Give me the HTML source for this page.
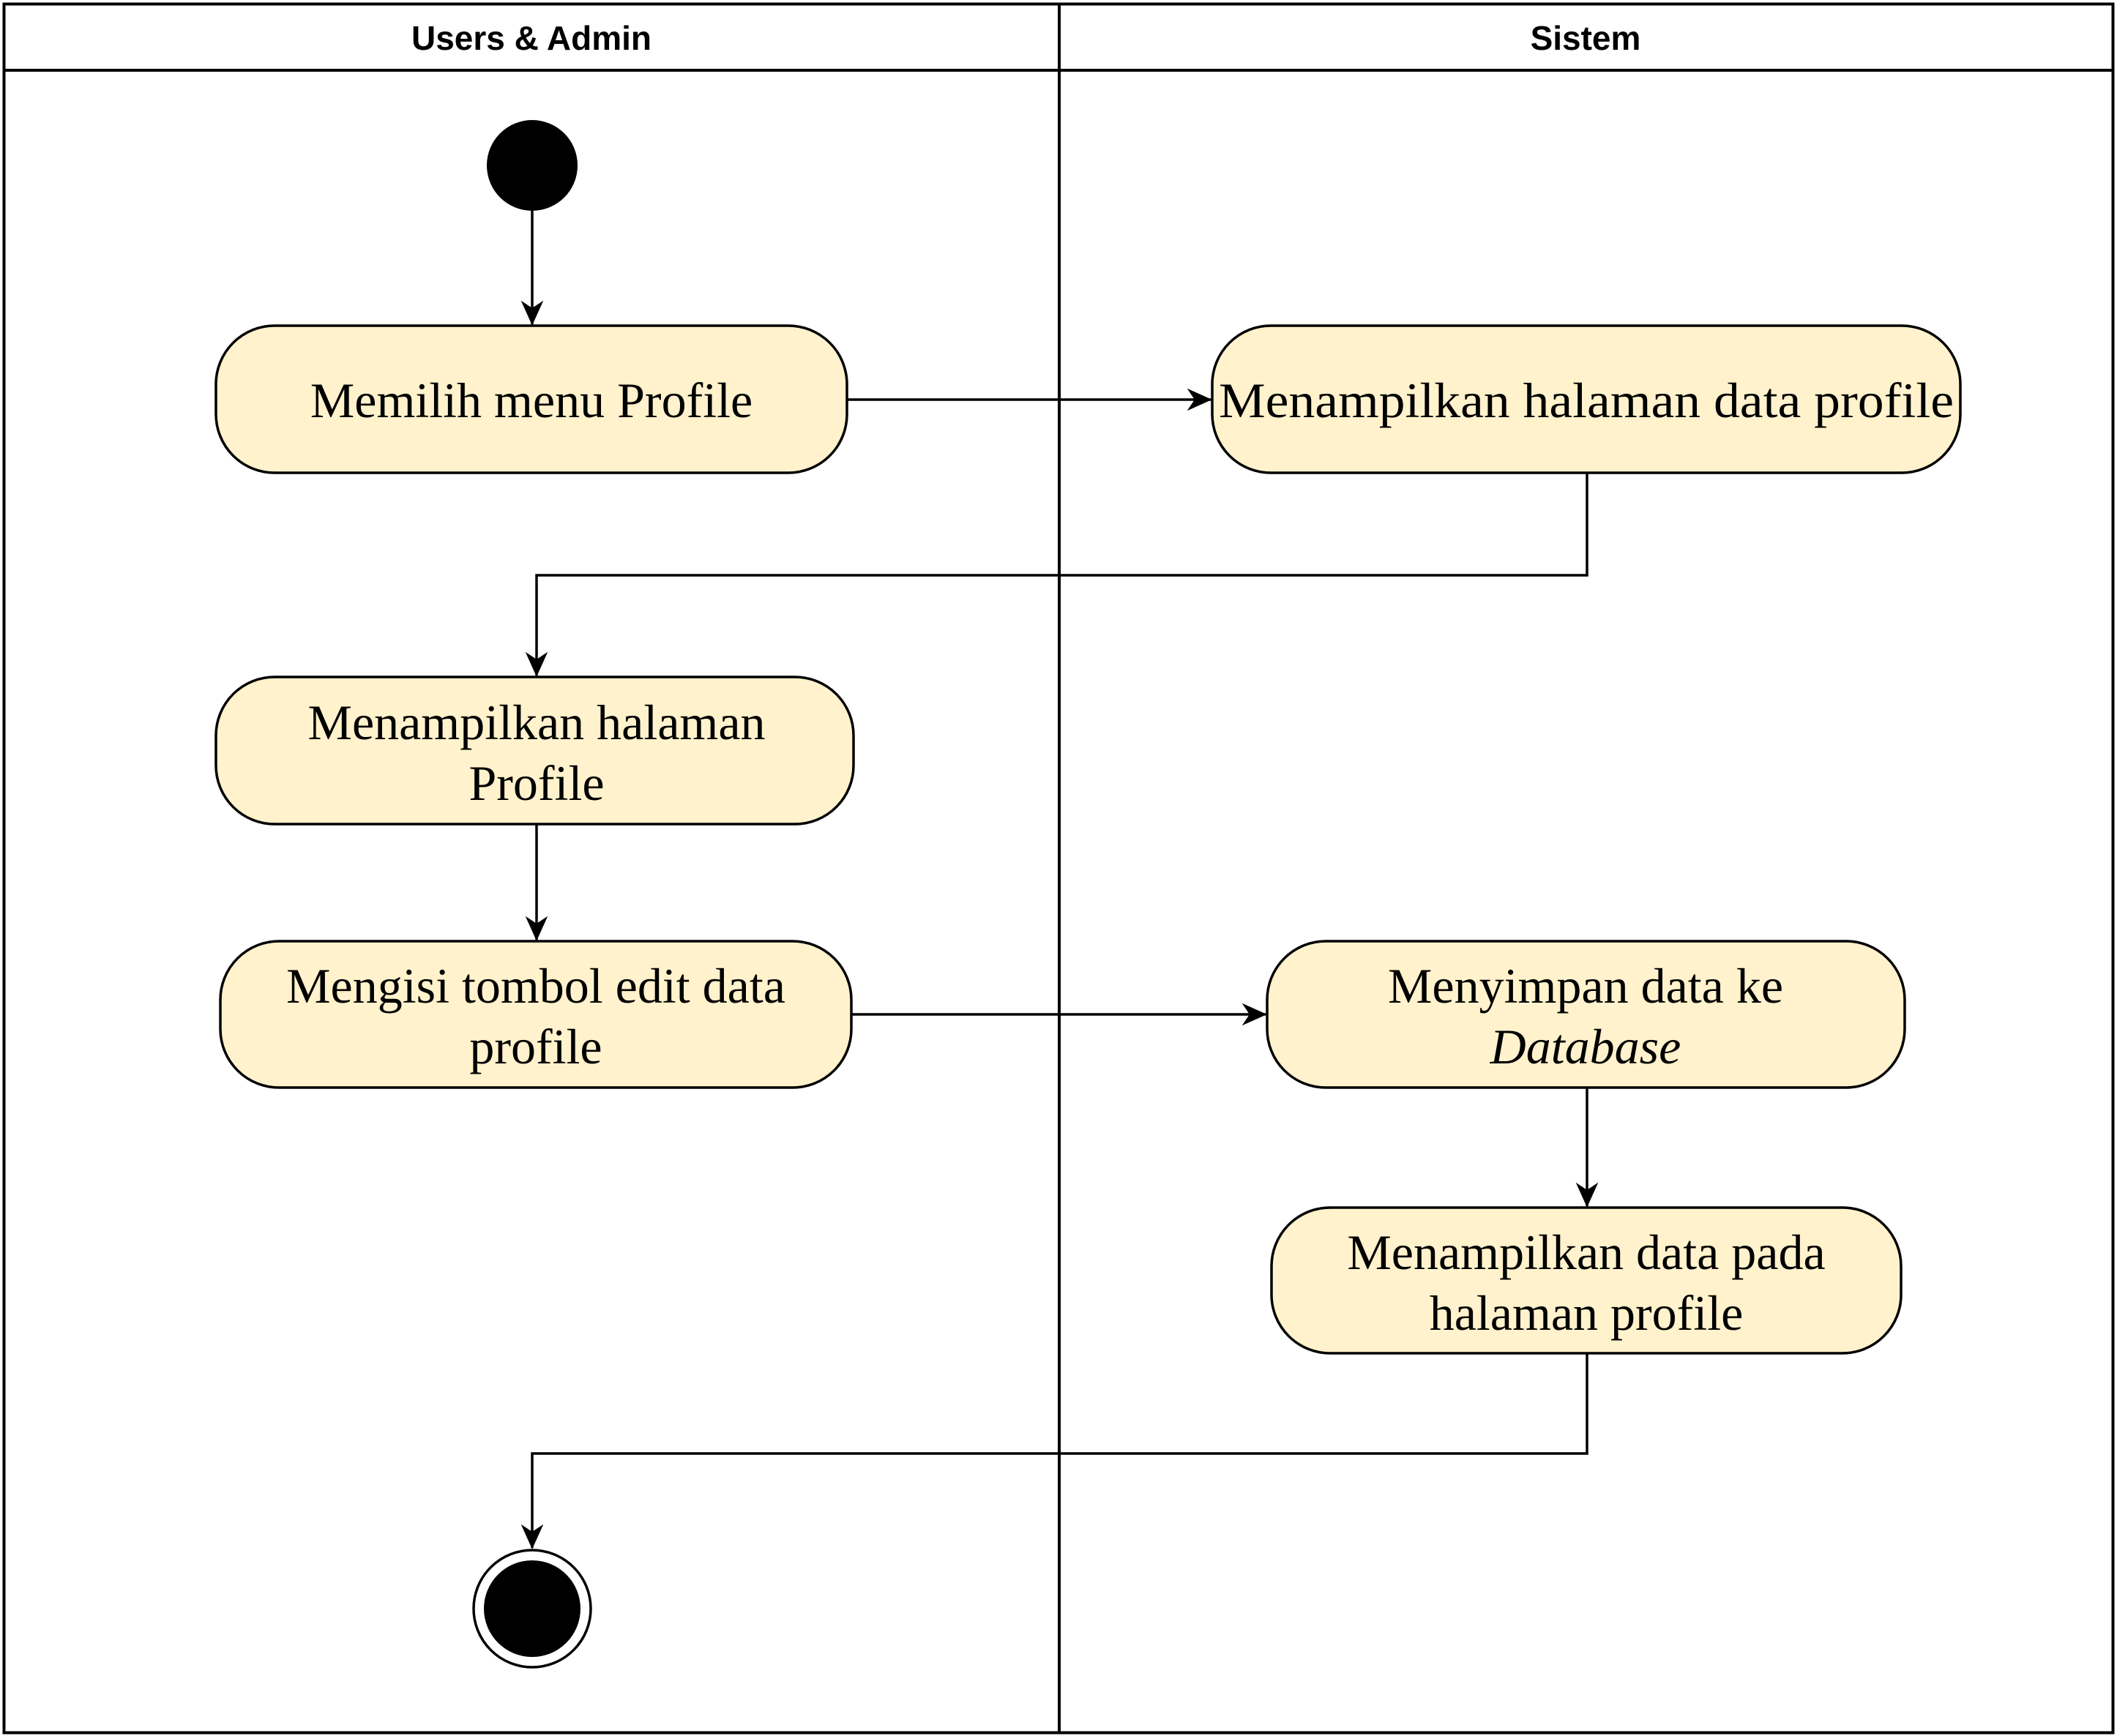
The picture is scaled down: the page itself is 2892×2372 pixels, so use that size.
<!DOCTYPE html>
<html><head><meta charset="utf-8"><style>
html,body{margin:0;padding:0;background:#fff;}
svg{display:block;}
.h{font-family:"Liberation Sans",sans-serif;font-weight:bold;font-size:46px;}
.t{font-family:"Liberation Serif",serif;font-size:68px;}
</style></head><body>
<svg width="2892" height="2372" viewBox="0 0 2892 2372" xmlns="http://www.w3.org/2000/svg">
<defs>
<marker id="a" viewBox="0 0 20 20" refX="19" refY="10" markerWidth="34" markerHeight="34" markerUnits="userSpaceOnUse" orient="auto">
<path d="M0,1 L20,10 L0,19 L6,10 Z" fill="#000"/>
</marker>
</defs>
<rect x="5.5" y="5.5" width="2881" height="2362" fill="#fff" stroke="#000" stroke-width="4"/>
<line x1="5" y1="96" x2="2887" y2="96" stroke="#000" stroke-width="4"/>
<line x1="1447" y1="5" x2="1447" y2="2368" stroke="#000" stroke-width="4"/>
<text class="h" x="726" y="68" text-anchor="middle">Users &amp; Admin</text>
<text class="h" x="2166" y="68" text-anchor="middle">Sistem</text>

<g stroke="#000" stroke-width="3.5" fill="none">
<line x1="727" y1="287" x2="727" y2="443" marker-end="url(#a)"/>
<line x1="1157" y1="546" x2="1654" y2="546" marker-end="url(#a)"/>
<polyline points="2168,646 2168,786 733,786 733,923" marker-end="url(#a)"/>
<line x1="733" y1="1126" x2="733" y2="1284" marker-end="url(#a)"/>
<line x1="1163" y1="1386" x2="1729" y2="1386" marker-end="url(#a)"/>
<line x1="2168" y1="1486" x2="2168" y2="1648" marker-end="url(#a)"/>
<polyline points="2168,1849 2168,1986 727,1986 727,2115" marker-end="url(#a)"/>
</g>

<circle cx="727" cy="226" r="62" fill="#000"/>
<circle cx="727" cy="2198" r="80" fill="#fff" stroke="#000" stroke-width="3.5"/>
<circle cx="727" cy="2198" r="66" fill="#000"/>

<g fill="#fff2cc" stroke="#000" stroke-width="3.5">
<rect x="295" y="445" width="862" height="201" rx="80"/>
<rect x="1656" y="445" width="1022" height="201" rx="80"/>
<rect x="295" y="925" width="871" height="201" rx="80"/>
<rect x="301" y="1286" width="862" height="200" rx="80"/>
<rect x="1731" y="1286" width="871" height="200" rx="80"/>
<rect x="1737" y="1650" width="860" height="199" rx="80"/>
</g>

<g class="t" text-anchor="middle" fill="#000">
<text x="726" y="570">Memilih menu Profile</text>
<text x="2167" y="570" textLength="1004" lengthAdjust="spacingAndGlyphs">Menampilkan halaman data profile</text>
<text x="733" y="1010">Menampilkan halaman</text>
<text x="733" y="1093">Profile</text>
<text x="732" y="1370">Mengisi tombol edit data</text>
<text x="732" y="1453">profile</text>
<text x="2166" y="1370">Menyimpan data ke</text>
<text x="2166" y="1453" font-style="italic">Database</text>
<text x="2167" y="1734">Menampilkan data pada</text>
<text x="2167" y="1817">halaman profile</text>
</g>
</svg>
</body></html>
